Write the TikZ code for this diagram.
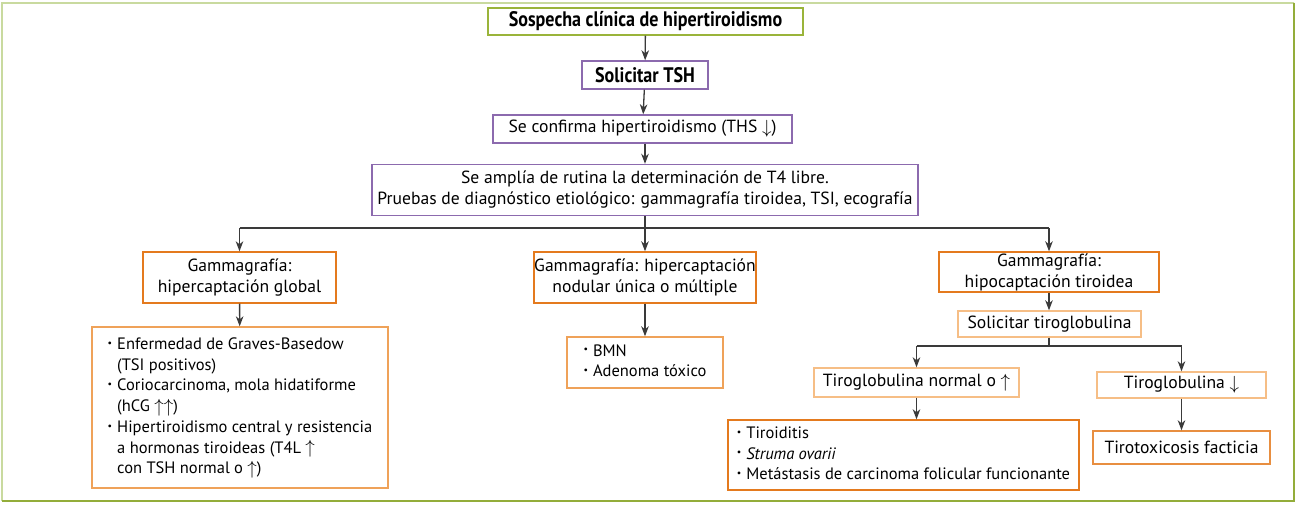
\documentclass[tikz,border=0pt]{standalone}
\usepackage{fontspec}
\usepackage{graphicx}
\setmainfont{PT Sans}
\newfontfamily\titlefont[FakeStretch=0.86]{PT Sans}
\usetikzlibrary{arrows.meta}
\definecolor{frameL}{HTML}{C9DA9F}
\definecolor{frameD}{HTML}{93AD3A}
\definecolor{oliveG}{HTML}{9AB43A}
\definecolor{purp}{HTML}{8C6AAE}
\definecolor{orng}{HTML}{E47A1E}
\definecolor{morng}{HTML}{EFA259}
\definecolor{lorng}{HTML}{F6BE86}
\definecolor{linec}{HTML}{3A3A3A}
\newcommand{\bul}{\raisebox{0.2em}{\scalebox{0.6}{\textbullet}}}
\newcommand{\up}{\raisebox{-0.05em}{\scalebox{1.1}{$\uparrow$}}}
\newcommand{\dn}{\raisebox{-0.05em}{\scalebox{1.1}{$\downarrow$}}}
\begin{document}
\begin{tikzpicture}[x=1pt,y=-1pt,
  box/.style={draw, line width=1.4pt, inner sep=0pt, align=center, text=black,
    font=\fontsize{17.6}{21}\selectfont},
  gbox/.style={box, draw=oliveG},
  pbox/.style={box, draw=purp},
  obox/.style={box, draw=orng},
  mbox/.style={box, draw=morng},
  lbox/.style={box, draw=lorng},
  listf/.style={font=\fontsize{16.5}{20.7}\selectfont},
  bold/.style={font=\titlefont\bfseries\fontsize{21}{24}\selectfont},
  arr/.style={draw=linec, line width=1.3pt, -{Stealth[length=10pt,width=7.5pt,inset=3pt]}},
  ln/.style={draw=linec, line width=1.3pt}]
\useasboundingbox (0,0) rectangle (1296,504);
\draw[frameL, line width=2pt] (1.5,501) -- (1.5,2.5) -- (1294,2.5);
\draw[frameD, line width=2pt] (1294,2.5) -- (1294,501) -- (1.5,501);

\node[gbox, bold, minimum width=315pt, minimum height=27pt] (s) at (645.5,21.5) {Sospecha clínica de hipertiroidismo};
\node[pbox, bold, minimum width=126pt, minimum height=28pt] (tsh) at (645,75) {Solicitar TSH};
\node[pbox, minimum width=299pt, minimum height=28pt] (conf) at (642.5,129) {Se confirma hipertiroidismo (THS \dn)};
\node[pbox, minimum width=546pt, minimum height=51pt] (amp) at (645,190) {Se amplía de rutina la determinación de T4 libre.\\ Pruebas de diagnóstico etiológico: gammagrafía tiroidea, TSI, ecografía};

\node[obox, minimum width=193pt, minimum height=51pt] (gg) at (239.5,277.5) {Gammagrafía:\\ hipercaptación global};
\node[obox, minimum width=222pt, minimum height=51pt] (gn) at (645,277.5) {Gammagrafía: hipercaptación\\ nodular única o múltiple};
\node[obox, minimum width=220pt, minimum height=40pt] (gh) at (1049,272) {Gammagrafía:\\ hipocaptación tiroidea};

\node[mbox, listf, minimum width=296pt, minimum height=161pt] (lg) at (240,407.5) {\begin{tabular}{@{}l@{\hspace{5pt}}l@{}}
\bul & Enfermedad de Graves-Basedow\\
 & (TSI positivos)\\
\bul & Coriocarcinoma, mola hidatiforme\\
 & (hCG \up\up)\\
\bul & Hipertiroidismo central y resistencia\\
 & a hormonas tiroideas (T4L \up\\
 & con TSH normal o \up)
\end{tabular}};
\node[mbox, listf, minimum width=156pt, minimum height=51pt] (bmn) at (645,362.5) {\begin{tabular}{@{}l@{\hspace{5pt}}l@{}}
\bul & BMN\\
\bul & Adenoma tóxico
\end{tabular}};

\node[lbox, minimum width=183pt, minimum height=26pt] (stg) at (1049.5,324) {Solicitar tiroglobulina};
\node[lbox, minimum width=205pt, minimum height=29pt] (tgn) at (916.5,382.5) {Tiroglobulina normal o \up};
\node[lbox, minimum width=169pt, minimum height=26pt] (tgd) at (1181.5,385) {Tiroglobulina \dn};
\node[obox, listf, minimum width=351pt, minimum height=70pt] (lt) at (903.5,455) {\begin{tabular}{@{}l@{\hspace{5pt}}l@{}}
\bul & Tiroiditis\\
\bul & \textit{Struma ovarii}\\
\bul & Metástasis de carcinoma folicular funcionante
\end{tabular}};
\node[box, draw=orng!85!white, minimum width=177pt, minimum height=33pt] (tt) at (1181.5,447.5) {Tirotoxicosis facticia};

\coordinate (bus) at (645,228);
\coordinate (bus2) at (1049,346);

\draw[arr] (s) -- (tsh);
\draw[arr] (tsh) -- (conf);
\draw[arr] (conf.south -| amp.north) -- (amp);
\draw[arr] (amp) -- (gn);
\draw[ln] (gg.north |- bus) -- (gh.north |- bus);
\draw[arr] (gg.north |- bus) -- (gg);
\draw[arr] (gh.north |- bus) -- (gh);
\draw[arr] (gg) -- (lg);
\draw[arr] (gn) -- (bmn);
\draw[arr] (gh) -- (gh.south |- stg.north);
\draw[ln] (stg.south -| bus2) -- (bus2);
\draw[ln] (tgn.north |- bus2) -- (tgd.north |- bus2);
\draw[arr] (tgn.north |- bus2) -- (tgn);
\draw[arr] (tgd.north |- bus2) -- (tgd);
\draw[arr] (tgn) -- (tgn.south |- lt.north);
\draw[arr] (tgd) -- (tt);
\end{tikzpicture}
\end{document}
